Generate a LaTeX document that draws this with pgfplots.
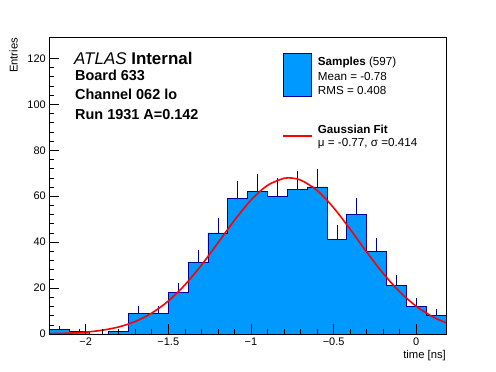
\documentclass[border=0pt]{standalone}
\usepackage{fontspec}
\setmainfont{Liberation Sans}
\usepackage{pgfplots}
\pgfplotsset{compat=1.18}
\definecolor{rootblue}{RGB}{0,153,255}
\definecolor{rootnavy}{RGB}{0,0,153}
\definecolor{rootred}{RGB}{255,0,0}

\pgfplotstableread{
x n
-2.22 2
-2.10 1
-1.98 0
-1.86 1
-1.74 9
-1.62 9
-1.50 18
-1.38 31
-1.26 44
-1.14 59
-1.02 62
-0.90 60
-0.78 63
-0.66 64
-0.54 41
-0.42 52
-0.30 36
-0.18 21
-0.06 12
0.06 8
0.18 8
}\histtable

\pgfplotstableread{
x n e
-2.16 2 1.414
-2.04 1 1
-1.80 1 1
-1.68 9 3
-1.56 9 3
-1.44 18 4.243
-1.32 31 5.568
-1.20 44 6.633
-1.08 59 7.681
-0.96 62 7.874
-0.84 60 7.746
-0.72 63 7.937
-0.60 64 8
-0.48 41 6.403
-0.36 52 7.211
-0.24 36 6
-0.12 21 4.583
0.00 12 3.464
0.12 8 2.828
}\errtable

\pgfplotstableread{
x y
-2.22 0.15
-2.10 0.39
-2.00 0.82
-1.90 1.64
-1.80 3.08
-1.70 5.45
-1.60 9.11
-1.50 14.37
-1.40 21.37
-1.30 29.97
-1.20 39.65
-1.10 49.49
-1.00 58.28
-0.90 64.73
-0.80 67.82
-0.77 68.00
-0.70 67.03
-0.60 62.51
-0.50 54.97
-0.40 45.62
-0.30 35.70
-0.20 26.36
-0.10 18.36
0.00 12.06
0.10 7.47
0.18 4.89
}\fittable

\begin{document}
\begin{tikzpicture}
\path[use as bounding box] (0bp,0bp) rectangle (496bp,372bp);
\begin{axis}[
  at={(49.3bp,38bp)}, anchor=south west,
  scale only axis, width=396.7bp, height=296.3bp,
  xmin=-2.22, xmax=0.18, ymin=0, ymax=129,
  axis on top,
  axis line style={line width=0.8pt},
  xtick={-2,-1.5,-1,-0.5,0},
  xticklabels={−2,−1.5,−1,−0.5,0},
  minor x tick num=4,
  ytick={0,20,...,120}, minor y tick num=4,
  tick align=inside, xtick pos=bottom, ytick pos=left,
  major tick length=10bp, minor tick length=5bp,
  tick style={line width=0.6pt, black},
  ticklabel style={font=\fontsize{11}{13}\selectfont},
  /pgf/number format/assume math mode=true,
]
\addplot[const plot, fill=rootblue, draw=none] table[x=x,y=n] {\histtable} \closedcycle;
\addplot[draw=none, mark=none, forget plot,
  error bars/.cd, y dir=plus, y explicit, error mark=none,
  error bar style={draw=rootnavy, line width=0.8pt}]
  table[x=x, y=n, y error=e] {\errtable};
\addplot[const plot, draw=rootnavy, line width=0.8pt] table[x=x,y=n] {\histtable};
\addplot[smooth, draw=rootred, line width=1.6pt] table[x=x,y=y] {\fittable};
\end{axis}

\node[anchor=base west, inner sep=0pt, font=\fontsize{17}{20}\selectfont] at (74bp,307.5bp) {\textit{ATLAS} \textbf{Internal}};
\node[anchor=base west, inner sep=0pt, font=\fontsize{14.5}{17}\selectfont\bfseries] at (75bp,291.5bp) {Board 633};
\node[anchor=base west, inner sep=0pt, font=\fontsize{14.5}{17}\selectfont\bfseries] at (75bp,272bp) {Channel 062 lo};
\node[anchor=base west, inner sep=0pt, font=\fontsize{14.5}{17}\selectfont\bfseries] at (75bp,252.5bp) {Run 1931 A=0.142};

\draw[fill=rootblue, draw=rootnavy, line width=0.8pt] (283.3bp,275.5bp) rectangle (311.5bp,318.7bp);
\node[anchor=base west, inner sep=0pt, font=\fontsize{11.7}{14}\selectfont] at (317.7bp,306.2bp) {\textbf{Samples} (597)};
\node[anchor=base west, inner sep=0pt, font=\fontsize{11.7}{14}\selectfont] at (317.7bp,291.5bp) {Mean = -0.78};
\node[anchor=base west, inner sep=0pt, font=\fontsize{11.7}{14}\selectfont] at (317.7bp,277.5bp) {RMS = 0.408};
\draw[rootred, line width=1.6pt] (283.3bp,236bp) -- (311.5bp,236bp);
\node[anchor=base west, inner sep=0pt, font=\fontsize{11.7}{14}\selectfont] at (317.7bp,238bp) {\textbf{Gaussian Fit}};
\node[anchor=base west, inner sep=0pt, font=\fontsize{11.7}{14}\selectfont] at (317.7bp,225.5bp) {μ = -0.77, σ =0.414};

\node[anchor=base east, inner sep=0pt, font=\fontsize{11.3}{13}\selectfont] at (446bp,14bp) {time [ns]};
\node[anchor=base east, inner sep=0pt, rotate=90, font=\fontsize{11.3}{13}\selectfont] at (17.5bp,334.3bp) {Entries};
\end{tikzpicture}
\end{document}
